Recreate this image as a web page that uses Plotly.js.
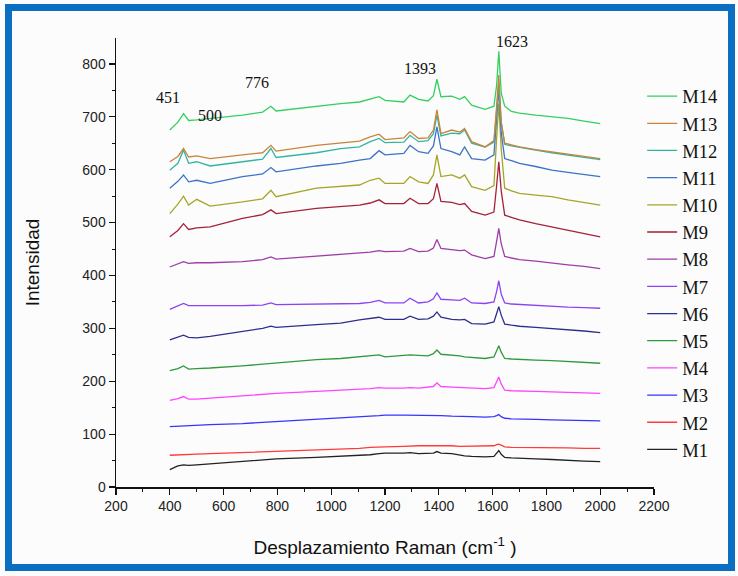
<!DOCTYPE html>
<html>
<head>
<meta charset="utf-8">
<script src="https://cdn.plot.ly/plotly-3.0.1.min.js"></script>
<style>
  html, body { margin: 0; padding: 0; background: #ffffff; }
  #wrap { position: relative; width: 738px; height: 576px; overflow: hidden; background: #fcfcfc; }
  #chart { position: absolute; left: 0; top: 0; width: 738px; height: 576px; }
  #frame { position: absolute; left: 5px; top: 4px; width: 716px; height: 553px; border: 7px solid #0a6fc2; pointer-events: none; }
</style>
</head>
<body>
<div id="wrap">
  <div id="chart"></div>
  <div id="frame"></div>
</div>
<script>
// Raman shift (cm-1), shared by all spectra
const shift = [400, 430, 451, 470, 500, 550, 670, 745, 776, 795, 945, 1035, 1105, 1145, 1178, 1200,
  1270, 1293, 1325, 1360, 1380, 1393, 1408, 1448, 1478, 1496, 1522, 1572, 1605, 1615, 1623, 1632,
  1645, 1670, 1700, 1760, 1820, 1880, 1940, 2000];

const names = ["M1","M2","M3","M4","M5","M6","M7","M8","M9","M10","M11","M12","M13","M14"];

const M1  = [33,40,42,41,42,44,48,51,53,53,56,58,60,61,63,64,64,65,63,63,64,67,64,63,60,59,58,57,58,64,69,62,56,55,54,53,52,50,49,48];
const M2  = [60,61,61,62,62,63,65,66,67,67,70,71,73,75,76,76,77,78,78,78,78,79,78,78,77,77,77,77,78,80,81,79,76,75,75,74,74,74,73,73];
const M3  = [114,115,116,116,117,118,120,122,123,124,128,130,132,134,135,136,136,136,136,136,136,136,135,134,134,133,133,132,133,135,137,133,130,129,129,128,127,126,126,125];
const M4  = [164,167,171,166,166,168,172,175,177,177,181,183,185,186,188,187,187,188,187,188,190,197,190,189,188,188,187,186,188,198,208,195,183,182,182,181,180,179,178,177];
const M5  = [220,224,229,223,224,225,229,232,234,235,241,243,246,249,250,246,248,250,249,248,252,259,251,250,248,246,245,243,246,258,267,255,243,242,241,240,239,237,236,234];
const M6  = [278,283,287,283,282,285,294,300,304,302,307,310,316,318,321,317,317,323,317,318,323,331,321,317,316,317,309,308,312,328,341,325,308,306,304,302,300,297,295,292];
const M7  = [336,343,347,343,343,342,343,344,348,345,346,347,347,349,353,348,348,357,348,350,356,367,355,354,353,357,348,347,350,370,390,365,348,346,345,343,342,340,339,338];
const M8  = [416,422,426,423,424,424,426,430,435,431,436,439,442,444,447,445,446,451,445,446,452,468,451,449,447,448,439,432,436,465,489,460,436,433,430,427,423,420,417,413];
const M9  = [473,485,498,487,490,492,508,515,524,517,527,531,533,537,543,536,536,546,536,536,545,574,540,538,534,536,521,514,520,570,615,560,514,510,505,498,492,486,480,473];
const M10 = [517,535,550,533,544,531,539,545,561,549,565,568,571,580,584,574,574,587,577,574,590,628,587,590,584,590,568,561,570,660,725,640,565,560,555,552,549,543,538,533];
const M11 = [565,578,590,577,580,574,587,592,604,596,607,612,618,621,636,628,631,646,634,631,645,681,640,634,628,643,621,618,628,690,754,670,621,617,612,606,599,595,591,587];
const M12 = [599,612,637,612,615,607,615,620,640,623,632,640,643,653,659,651,652,665,653,655,668,703,664,669,668,675,650,643,652,705,762,690,648,645,642,637,632,628,623,619];
const M13 = [615,625,640,624,626,621,628,632,646,635,646,651,654,662,667,657,660,672,659,660,675,713,668,675,671,678,653,643,655,720,779,690,650,647,643,638,634,630,625,621];
const M14 = [675,690,706,693,694,697,703,709,720,711,720,725,728,733,738,731,728,741,733,730,740,771,738,739,733,738,722,714,720,760,824,745,720,710,707,703,700,697,692,687];

const series = [M1,M2,M3,M4,M5,M6,M7,M8,M9,M10,M11,M12,M13,M14];
const colors = ["#222222","#ff3a3a","#3535ff","#ff44ff","#2f9a3c","#2e2e8e","#8a44f2","#a03ca8",
  "#a52238","#a6a626","#3b74c6","#33b4a2","#c8843a","#33d060"];

// peak labels
const peakLabels = ["451","500","776","1393","1623"];

const traces = series.map((ys, i) => ({
  type: "scatter", mode: "lines",
  x: shift, y: ys, name: names[i],
  line: { color: colors[i], width: 1.3 }
}));

const annPos = [[393,737],[549,703],[724,764],[1330,792],[1672,843]];
const annotations = peakLabels.map((t, i) => ({
  x: annPos[i][0], y: annPos[i][1], xref: "x", yref: "y", text: t, showarrow: false,
  font: { family: "Liberation Serif, Times New Roman, serif", size: 16, color: "#111" }
}));

const layout = {
  width: 738, height: 576,
  margin: { l: 116, r: 84, t: 38, b: 89 },
  paper_bgcolor: "rgba(0,0,0,0)", plot_bgcolor: "rgba(0,0,0,0)",
  showlegend: true,
  legend: {
    x: 0.978, y: 0.912, xanchor: "left", yanchor: "top",
    traceorder: "reversed",
    font: { family: "Liberation Serif, Times New Roman, serif", size: 18.6, color: "#111" },
    bgcolor: "rgba(0,0,0,0)", borderwidth: 0
  },
  xaxis: {
    range: [200, 2200], tickmode: "linear", tick0: 200, dtick: 200,
    ticks: "outside", ticklen: 6, tickwidth: 1.2, tickcolor: "#111",
    showline: true, linecolor: "#111", linewidth: 1.5, showgrid: false, zeroline: false,
    minor: { dtick: 100, tick0: 200, ticks: "outside", ticklen: 3, tickwidth: 1, tickcolor: "#111" },
    tickfont: { family: "Liberation Sans, Arial, sans-serif", size: 14, color: "#222" },
    title: { text: "Desplazamiento Raman (cm<sup>-1</sup> )", standoff: 27,
      font: { family: "Liberation Sans, Arial, sans-serif", size: 19, color: "#111" } }
  },
  yaxis: {
    range: [0, 849], tickmode: "linear", tick0: 0, dtick: 100,
    ticks: "outside", ticklen: 6, tickwidth: 1.2, tickcolor: "#111",
    showline: true, linecolor: "#111", linewidth: 1.5, showgrid: false, zeroline: false,
    minor: { dtick: 50, tick0: 0, ticks: "outside", ticklen: 3, tickwidth: 1, tickcolor: "#111" },
    tickfont: { family: "Liberation Sans, Arial, sans-serif", size: 14, color: "#222" },
    title: { text: "Intensidad", standoff: 37,
      font: { family: "Liberation Sans, Arial, sans-serif", size: 19, color: "#111" } }
  },
  annotations: annotations
};

Plotly.newPlot("chart", traces, layout, { displayModeBar: false, staticPlot: true });
</script>
</body>
</html>
